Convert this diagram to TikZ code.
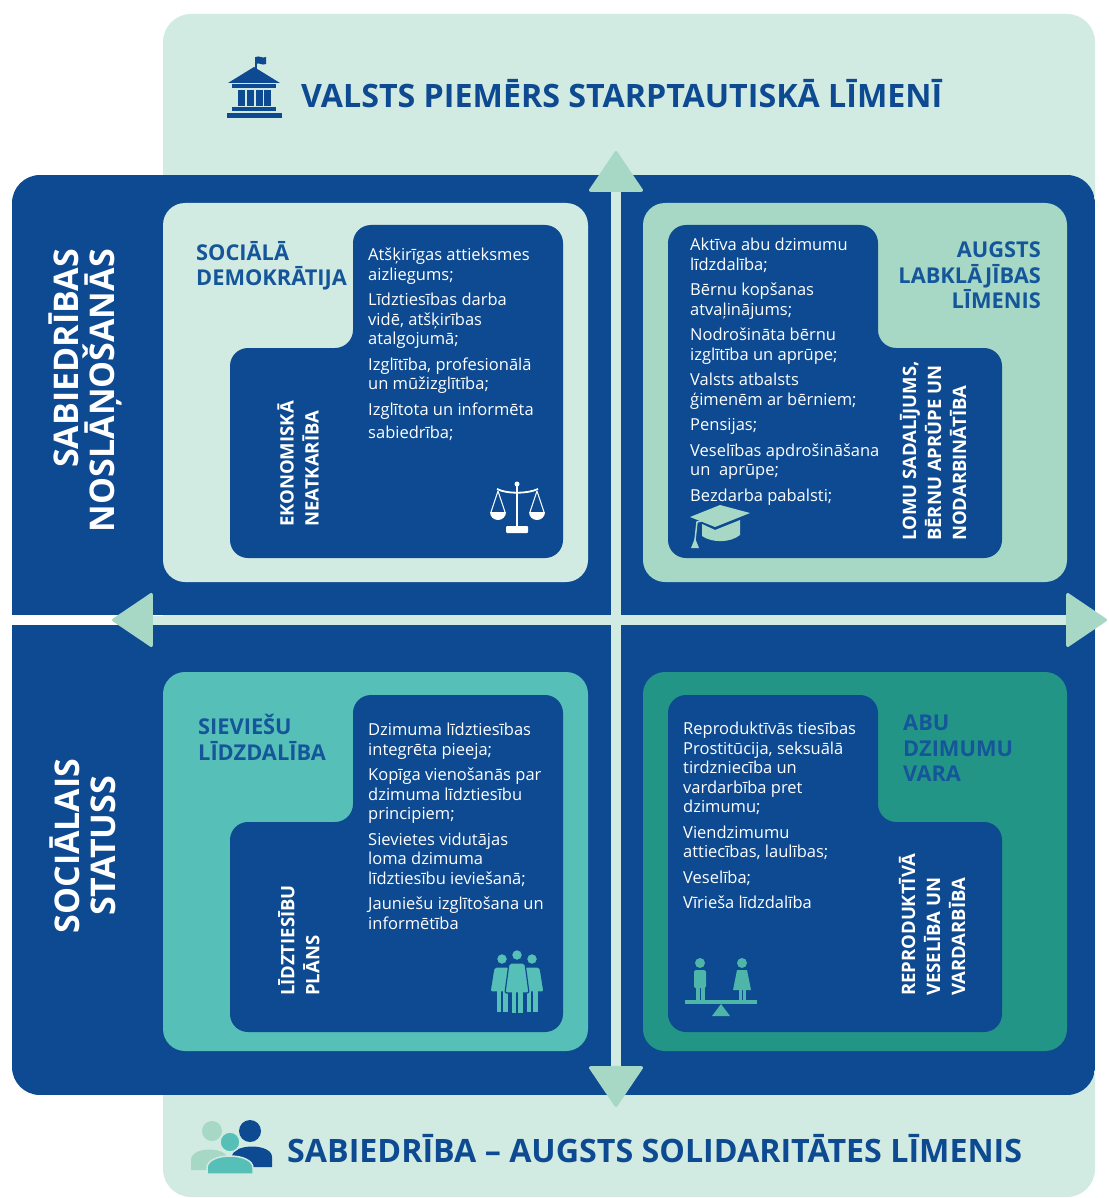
\documentclass[tikz,border=0pt]{standalone}
\usepackage{fontspec}
\setmainfont{Open Sans}
\usepackage{tikz}
\usetikzlibrary{arrows.meta}
\definecolor{blockblue}{RGB}{13,74,145}
\definecolor{headblue}{RGB}{21,86,154}
\definecolor{palemint}{RGB}{210,235,226}
\definecolor{midmint}{RGB}{166,216,197}
\definecolor{quadteal}{RGB}{86,191,183}
\definecolor{deepteal}{RGB}{35,149,135}
\definecolor{iconteal}{RGB}{77,182,168}
\tikzset{
  listtext/.style={text=white, align=left, inner sep=0pt, anchor=north west, font=\fontsize{16.5}{19.5}\selectfont},
  headtext/.style={text=headblue, inner sep=0pt, anchor=north west, align=left, font=\bfseries\fontsize{21.8}{25.5}\selectfont},
  innerlabel/.style={text=white, inner sep=0pt, rotate=90, anchor=west, align=left, font=\bfseries\fontsize{18.5}{25}\selectfont},
  sidelabel/.style={text=white, inner sep=0pt, rotate=90, font=\bfseries\fontsize{34}{36}\selectfont},
  bigtitle/.style={text=blockblue, inner sep=0pt, anchor=base west, font=\bfseries\fontsize{32.2}{36}\selectfont},
  axisarrow/.style={draw=palemint, line width=9pt,
    {Triangle[length=42pt, width=56pt, round, line width=3pt, color=midmint]}-{Triangle[length=42pt, width=56pt, round, line width=3pt, color=midmint]}},
}
\begin{document}
\begin{tikzpicture}[x=1pt,y=-1pt]
    \useasboundingbox (0,0) rectangle (1108,1198);
    % Background panel
    \fill[palemint, rounded corners=28pt] (163,14) rectangle (1095,1197);
    % Four dark blocks, cut by the cross
    \begin{scope}
      \clip[rounded corners=28pt] (12,175) rectangle (1095,1095);
      \fill[blockblue] (12,175) rectangle (611,615);
      \fill[blockblue] (621,175) rectangle (1095,615);
      \fill[blockblue] (12,625) rectangle (611,1095);
      \fill[blockblue] (621,625) rectangle (1095,1095);
    \end{scope}
    % Axes with arrow heads
    \coordinate (topend) at (616,151);
    \coordinate (bottomend) at (616,1107);
    \coordinate (leftend) at (112,620);
    \coordinate (rightend) at (1107,620);
    \draw[axisarrow] (bottomend) -- (topend);
    \draw[axisarrow] (leftend) -- (rightend);
    % Quadrant panels
    \fill[palemint, rounded corners=22pt] (163,203) rectangle (588,582);
    \fill[midmint, rounded corners=22pt] (643,203) rectangle (1067,582);
    \fill[quadteal, rounded corners=22pt] (163,672) rectangle (588,1051);
    \fill[deepteal, rounded corners=22pt] (643,672) rectangle (1067,1051);
    % Inner dark shapes
    \fill[blockblue, rounded corners=18pt] (458,225) -- (563,225) -- (563,558) -- (230,558) -- (230,348) -- (353,348) -- (353,225) -- cycle;
    \fill[blockblue, rounded corners=18pt] (773,225) -- (878,225) -- (878,348) -- (1002,348) -- (1002,558) -- (668,558) -- (668,225) -- cycle;
    \fill[blockblue, rounded corners=18pt] (458,695) -- (563,695) -- (563,1032) -- (230,1032) -- (230,822) -- (353,822) -- (353,695) -- cycle;
    \fill[blockblue, rounded corners=18pt] (773,695) -- (878,695) -- (878,822) -- (1002,822) -- (1002,1032) -- (668,1032) -- (668,695) -- cycle;
    % Titles
    \node[bigtitle] (toptitle) at (301,108) {VALSTS PIEMĒRS STARPTAUTISKĀ LĪMENĪ};
    \node[bigtitle] (bottomtitle) at (287,1162) {SABIEDRĪBA – AUGSTS SOLIDARITĀTES LĪMENIS};
    % Side labels
    \node[sidelabel, anchor=east, align=right] (noslanosanas) at (85,249) {SABIEDRĪBAS\\NOSLĀŅOŠANĀS};
    \node[sidelabel, anchor=center, align=center] (statuss) at (83,846) {SOCIĀLAIS\\STATUSS};
    % Quadrant headings
    \node[headtext] (socdem) at (196,241) {SOCIĀLĀ\\DEMOKRĀTIJA};
    \node[headtext, anchor=north east, align=right] (labklajiba) at (1041,242) {AUGSTS\\LABKLĀJĪBAS\\LĪMENIS};
    \node[headtext] (lidzdaliba) at (198,714) {SIEVIEŠU\\LĪDZDALĪBA};
    \node[headtext] (vara) at (903,715) {ABU\\DZIMUMU\\VARA};
    % Rotated inner labels
    \node[innerlabel] (neatkariba) at (298,527) {EKONOMISKĀ\\NEATKARĪBA};
    \node[innerlabel] (nodarbinatiba) at (933,541) {LOMU SADALĪJUMS,\\BĒRNU APRŪPE UN\\NODARBINĀTĪBA};
    \node[innerlabel] (plans) at (299,996) {LĪDZTIESĪBU\\PLĀNS};
    \node[innerlabel] (vardarbiba) at (932,996) {REPRODUKTĪVĀ\\VESELĪBA UN\\VARDARBĪBA};
    % Lists
    \node[listtext] (listTL) at (368,248) {Atšķirīgas attieksmes\\aizliegums;\\[6pt]Līdztiesības darba\\vidē, atšķirības\\atalgojumā;\\[6pt]Izglītība, profesionālā\\un mūžizglītība;\\[6pt]Izglītota un informēta\\[4pt]sabiedrība;};
    \node[listtext] (listTR) at (690,238) {Aktīva abu dzimumu\\līdzdalība;\\[6pt]Bērnu kopšanas\\atvaļinājums;\\[6pt]Nodrošināta bērnu\\izglītība un aprūpe;\\[6pt]Valsts atbalsts\\ģimenēm ar bērniem;\\[6pt]Pensijas;\\[6pt]Veselības apdrošināšana\\un~ aprūpe;\\[6pt]Bezdarba pabalsti;};
    \node[listtext] (listBL) at (368,723) {Dzimuma līdztiesības\\integrēta pieeja;\\[6pt]Kopīga vienošanās par\\dzimuma līdztiesību\\principiem;\\[6pt]Sievietes vidutājas\\loma dzimuma\\līdztiesību ieviešanā;\\[6pt]Jauniešu izglītošana un\\informētība};
    \node[listtext] (listBR) at (683,722) {Reproduktīvās tiesības\\Prostitūcija, seksuālā\\tirdzniecība un\\vardarbība pret\\dzimumu;\\[6pt]Viendzimumu\\attiecības, laulības;\\[6pt]Veselība;\\[6pt]Vīrieša līdzdalība};
    % Icon: building
    \draw[blockblue, line width=1.6pt] (256,69) -- (256,57);
    \fill[blockblue] (256,57) .. controls (259,55) and (262,59) .. (266,57) -- (266,64) .. controls (262,66) and (259,62) .. (256,64) -- cycle;
    \fill[blockblue] (228,83) -- (254,67) -- (280,83) -- cycle;
    \fill[blockblue] (232,84) rectangle (276,88);
    \foreach \cx in {238,247,256,264}
      \fill[blockblue] (\cx,90) rectangle (\cx+6.5,106);
    \fill[blockblue] (232,107) rectangle (276,111);
    \fill[blockblue] (227,113) rectangle (282,118);
    % Icon: scale
    \fill[white] (517,484) circle (2.5);
    \draw[white, line width=2.2pt] (517,486) -- (517,527);
    \draw[white, line width=1.8pt] (497,489) .. controls (507,494) and (527,494) .. (538,489);
    \draw[white, line width=1pt] (498,491) -- (491,512) (498,491) -- (505,512);
    \draw[white, line width=1pt] (537,491) -- (530,512) (537,491) -- (544,512);
    \fill[white] (490,512) arc[start angle=180, end angle=0, radius=8] -- cycle;
    \fill[white] (529,512) arc[start angle=180, end angle=0, radius=8] -- cycle;
    \fill[white, rounded corners=1pt] (506,526) rectangle (528,533);
    % Icon: graduation cap
    \fill[midmint] (690,517) -- (720,505) -- (750,513) -- (715,527) -- cycle;
    \fill[midmint] (702,524) -- (702,536) .. controls (712,543) and (730,543) .. (740,535) -- (740,520) -- (715,530) -- cycle;
    \draw[midmint, line width=1.5pt] (712,518) -- (697,522) -- (695,540);
    \fill[midmint] (695,538) -- (691,548) -- (699,548) -- cycle;
    % Icon: women
    \foreach \wx/\wy/\wh in {502/959/53, 532/959/53, 517/955/58} {
      \fill[quadteal, draw=blockblue, line width=1.2pt] (\wx,\wy) circle (5.5);
      \fill[quadteal, draw=blockblue, line width=1.2pt, rounded corners=2pt] (\wx-8,\wy+8) -- (\wx+8,\wy+8) -- (\wx+12,\wy+\wh-20) -- (\wx-12,\wy+\wh-20) -- cycle;
      \fill[quadteal] (\wx-5.5,\wy+\wh-21) rectangle (\wx-1,\wy+\wh);
      \fill[quadteal] (\wx+1,\wy+\wh-21) rectangle (\wx+5.5,\wy+\wh);
    }
    % Icon: seesaw
    \fill[iconteal] (700,963) circle (5);
    \fill[iconteal, rounded corners=1.5pt] (694,970) rectangle (706,988);
    \fill[iconteal] (695.5,988) rectangle (699.5,1000);
    \fill[iconteal] (700.5,988) rectangle (704.5,1000);
    \fill[iconteal] (742,963) circle (5);
    \fill[iconteal] (737,970) -- (747,970) -- (751,990) -- (733,990) -- cycle;
    \fill[iconteal] (738.5,990) rectangle (741.5,1000);
    \fill[iconteal] (742.5,990) rectangle (745.5,1000);
    \fill[iconteal] (685,1000) rectangle (757,1004);
    \fill[iconteal] (721,1004) -- (712,1016) -- (730,1016) -- cycle;
    % Icon: people
    \fill[midmint] (212,1131) circle (10);
    \fill[midmint] (191,1170) -- (191,1160) .. controls (191,1146) and (228,1146) .. (228,1160) -- (228,1170) -- cycle;
    \fill[blockblue] (250,1131) circle (11);
    \fill[blockblue] (232,1167) -- (232,1157) .. controls (232,1143) and (272,1143) .. (272,1157) -- (272,1167) -- cycle;
    \fill[quadteal, draw=palemint, line width=1.5pt] (230,1142) circle (10);
    \fill[quadteal, draw=palemint, line width=1.5pt] (207,1174) -- (207,1168) .. controls (207,1152) and (253,1152) .. (253,1168) -- (253,1174) -- cycle;
\end{tikzpicture}
\end{document}
